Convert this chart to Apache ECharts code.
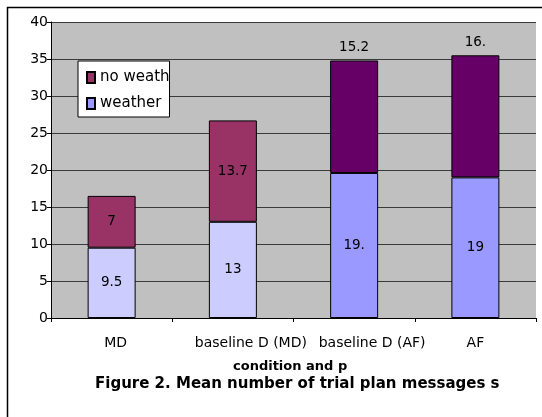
<!DOCTYPE html>
<html>
<head>
<meta charset="utf-8">
<script src="https://cdn.jsdelivr.net/npm/echarts@6/dist/echarts.min.js"></script>
<style>html,body{margin:0;padding:0;background:#fff;}#c{width:542px;height:417px;}</style>
</head>
<body>
<div id="c"></div>
<script>
const categories = ["MD", "baseline D (MD)", "baseline D (AF)", "AF"];
const weather = [9.5, 13, 19.6, 19];
const noWeather = [7, 13.7, 15.2, 16.5];
const weatherLabels = ["9.5", "13", "19.", "19"];
const noWeatherLabels = ["7", "13.7", "15.2", "16."];
const weatherColors = ["#CCCCFF", "#CCCCFF", "#9999FF", "#9999FF"];
const noWeatherColors = ["#993366", "#993366", "#660066", "#660066"];
const yTicks = [0, 5, 10, 15, 20, 25, 30, 35, 40];

// horizontal label shifts (style only), as Excel placed them
const labelShift = [8, 36, 36, 0];

const FONT = "DejaVu Sans";
const chart = echarts.init(document.getElementById('c'));
chart.setOption({
  animation: false,
  backgroundColor: '#fff',
  graphic: [{
    type: 'rect', left: 5, top: 5, shape: { width: 560, height: 440 },
    style: { fill: 'none', stroke: '#000', lineWidth: 1.5 }, z: -10
  }],
  title: [
    { text: 'condition and p', left: 228, top: 355,
      textStyle: { fontFamily: FONT, fontSize: 13, fontWeight: 'bold', color: '#000' } },
    { text: 'Figure 2. Mean number of trial plan messages s', left: 90, top: 372,
      textStyle: { fontFamily: FONT, fontSize: 15, fontWeight: 'bold', color: '#000' } }
  ],
  legend: {
    orient: 'vertical', left: 78, top: 61,
    data: ['no weather', 'weather'],
    backgroundColor: '#fff', borderColor: '#000', borderWidth: 1,
    padding: [9, 0, 6, 8], itemGap: 11, itemWidth: 8, itemHeight: 11,
    icon: 'rect',
    textStyle: { fontFamily: FONT, fontSize: 15, color: '#000', width: 72, overflow: 'truncate', ellipsis: '' }
  },
  grid: { left: 51, right: 6, top: 22, bottom: 99, show: true, backgroundColor: '#C0C0C0', borderWidth: 0 },
  xAxis: {
    type: 'category',
    data: categories.map((c, i) => ({ value: c, textStyle: { padding: [0, 0, 0, labelShift[i]] } })),
    axisLine: { lineStyle: { color: '#000', width: 1 } },
    axisTick: { show: true, length: 4, lineStyle: { color: '#000' } },
    axisLabel: { interval: 0, fontFamily: FONT, fontSize: 14, color: '#000', margin: 18 }
  },
  yAxis: {
    type: 'value', min: yTicks[0], max: yTicks[yTicks.length - 1], interval: 5,
    axisLine: { show: true, lineStyle: { color: '#000' } },
    axisTick: { show: true, length: 4, lineStyle: { color: '#000' } },
    axisLabel: { fontFamily: FONT, fontSize: 14, color: '#000', margin: 3 },
    splitLine: { lineStyle: { color: '#3a3a3a', width: 1 } }
  },
  series: [
    {
      name: 'weather', type: 'bar', stack: 'a', barWidth: 48,
      itemStyle: { color: '#9999FF', borderColor: '#000', borderWidth: 1 },
      label: { show: true, position: 'inside', fontFamily: FONT, fontSize: 13.5, color: '#000',
        formatter: p => weatherLabels[p.dataIndex] },
      data: weather.map((v, i) => ({ value: v, itemStyle: { color: weatherColors[i] } }))
    },
    {
      name: 'no weather', type: 'bar', stack: 'a', barWidth: 48,
      itemStyle: { color: '#993366', borderColor: '#000', borderWidth: 1 },
      label: { show: true, position: 'inside', fontFamily: FONT, fontSize: 13.5, color: '#000',
        formatter: p => noWeatherLabels[p.dataIndex] },
      data: noWeather.map((v, i) => ({
        value: v, itemStyle: { color: noWeatherColors[i] },
        label: { position: i < 2 ? 'inside' : 'top', distance: 6 }
      }))
    }
  ]
});
</script>
</body>
</html>
